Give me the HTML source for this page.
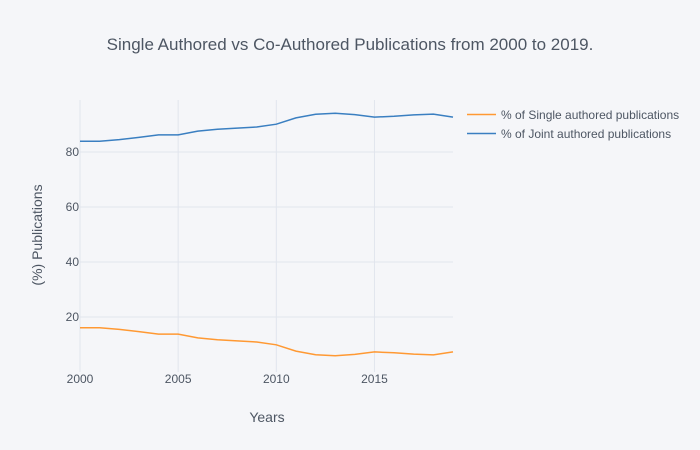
<!DOCTYPE html>
<html><head><meta charset="utf-8"><style>
body{margin:0;background:#f5f6f9;}
svg{display:block;font-family:"Liberation Sans",sans-serif;}
</style></head><body>
<svg id="chart" width="700" height="450">
<rect width="700" height="450" fill="#f5f6f9"/>
<text x="350" y="50" text-anchor="middle" font-size="17" fill="#4d5663">Single Authored vs Co-Authored Publications from 2000 to 2019.</text>
<g id="grid"></g>
<g id="series"></g>
<text x="267" y="422" text-anchor="middle" font-size="14" fill="#4d5663">Years</text>
<text transform="translate(42,235) rotate(-90)" text-anchor="middle" font-size="14" fill="#4d5663">(%) Publications</text>
<g>
<g>
<line x1="467" y1="114.5" x2="496" y2="114.5" stroke="#ff9933" stroke-width="1.5"/>
<text x="501" y="119" font-size="12" fill="#4d5663">% of Single authored publications</text></g>
<g>
<line x1="467" y1="133.5" x2="496" y2="133.5" stroke="#3a7fc1" stroke-width="1.5"/>
<text x="501" y="138" font-size="12" fill="#4d5663">% of Joint authored publications</text></g>
</g>
</svg>
<script>
const years=[2000,2001,2002,2003,2004,2005,2006,2007,2008,2009,2010,2011,2012,2013,2014,2015,2016,2017,2018,2019];
const jointPct=[83.9,83.9,84.5,85.3,86.2,86.2,87.6,88.3,88.7,89.1,90.1,92.4,93.7,94.1,93.6,92.7,93.0,93.5,93.8,92.7];
const singlePct=[16.1,16.1,15.5,14.7,13.8,13.8,12.4,11.7,11.3,10.9,9.9,7.6,6.3,5.9,6.4,7.3,7.0,6.5,6.2,7.3];
const xTicks=[2000,2005,2010,2015];
const yTicks=[20,40,60,80];
const NS="http://www.w3.org/2000/svg";
const xS=v=>80+(v-2000)*(453-80)/19;
const yS=v=>372-v*2.75;
const grid=document.getElementById('grid'),series=document.getElementById('series');
function mk(tag,attrs,parent,txt){const e=document.createElementNS(NS,tag);for(const k in attrs)e.setAttribute(k,attrs[k]);if(txt!==undefined)e.textContent=txt;parent.appendChild(e);return e;}
xTicks.forEach(t=>{
 const l=mk('line',{x1:xS(t),x2:xS(t),y1:100,y2:372,stroke:'#e1e5ed','stroke-width':1},grid);
 
 
 const tx=mk('text',{x:xS(t),y:383,'text-anchor':'middle','font-size':12,fill:'#4d5663'},grid,t);
 
 
});
yTicks.forEach(t=>{
 const l=mk('line',{x1:80,x2:453,y1:yS(t),y2:yS(t),stroke:'#e1e5ed','stroke-width':1},grid);
 
 
 const tx=mk('text',{x:79,y:yS(t)+4,'text-anchor':'end','font-size':12,fill:'#4d5663'},grid,t);
 
 
});
function line(vals,color,name){
 const d=vals.map((v,i)=>(i?'L':'M')+xS(years[i]).toFixed(1)+','+yS(v).toFixed(1)).join('');
 const p=mk('path',{d:d,fill:'none',stroke:color,'stroke-width':1.5},series);
 
 
}
line(singlePct,'#ff9933','single-authored-line');
line(jointPct,'#3a7fc1','joint-authored-line');
</script>
</body></html>
